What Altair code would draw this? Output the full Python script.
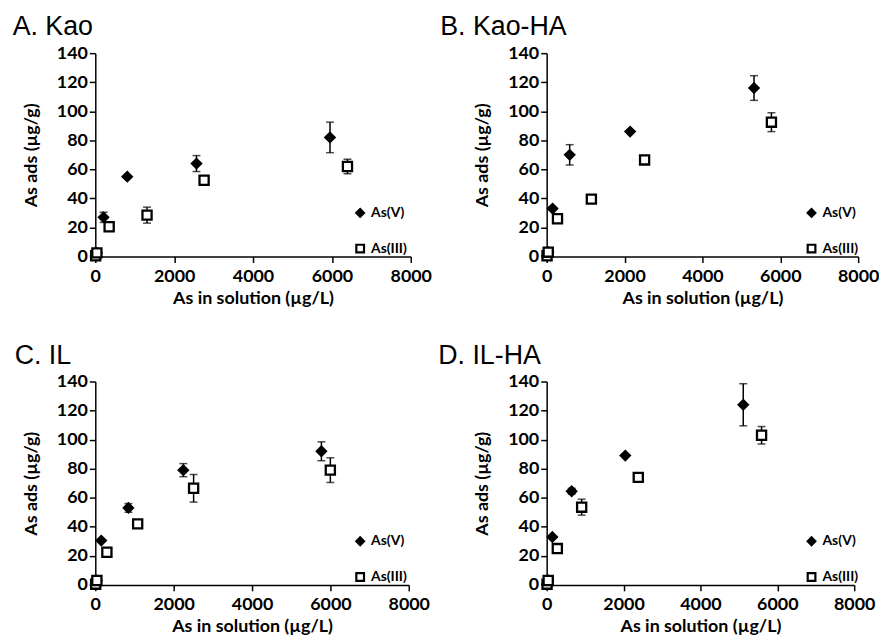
import altair as alt
import pandas as pd

panels = ["A. Kao", "B. Kao-HA", "C. IL", "D. IL-HA"]
species = ["As(V)", "As(III)"]
x_ticks = [0, 2000, 4000, 6000, 8000]
y_ticks = [0, 20, 40, 60, 80, 100, 120, 140]

# As(V): x = As in solution (µg/L), y = As ads (µg/g), err = half error bar
v_x = [
    [10, 40, 209, 811, 2566, 5952],
    [10, 40, 152, 591, 2143, 5325],
    [10, 40, 152, 845, 2247, 5770],
    [10, 40, 147, 650, 2045, 5114],
]
v_y = [
    [0.5, 2.5, 27, 55, 64, 82],
    [0.5, 3, 33, 70, 86, 116],
    [0.5, 3, 30.5, 53, 79, 92],
    [0.5, 3, 33, 64.5, 89, 124],
]
v_err = [
    [0, 0, 3.5, 0, 5.5, 10.5],
    [0, 0, 0, 7, 0, 8.5],
    [0, 0, 0, 3, 4.5, 6.5],
    [0, 0, 0, 2, 0, 14.5],
]
# As(III)
i_x = [
    [10, 40, 351, 1312, 2759, 6395],
    [10, 40, 278, 1148, 2515, 5772],
    [10, 40, 296, 1081, 2509, 5998],
    [10, 40, 277, 910, 2383, 5590],
]
i_y = [
    [0.5, 2.5, 20.5, 28.5, 52.5, 62],
    [0.5, 3, 26, 39.5, 66.5, 92.5],
    [0.5, 3, 22.5, 42, 66.5, 79],
    [0.5, 3, 25, 53.5, 74, 103],
]
i_err = [
    [0, 0, 0, 5.5, 0, 5],
    [0, 0, 0, 0, 0, 6.5],
    [0, 0, 0, 0, 9.5, 8.5],
    [0, 0, 0, 5.5, 0, 6],
]

XT = "As in solution (µg/L)"
YT = "As ads (µg/g)"
title_dx = [-10, -34, -8, -36]
panel_w = [318, 314, 316, 310]


def panel(i):
    rows = []
    for sp, xs, ys, es in [("As(V)", v_x[i], v_y[i], v_err[i]),
                           ("As(III)", i_x[i], i_y[i], i_err[i])]:
        for x, y, e in zip(xs, ys, es):
            rows.append(dict(species=sp, x=x, y=y, lo=y - e, hi=y + e, err=e))
    df = pd.DataFrame(rows)
    xs = alt.Scale(domain=[0, 8000], nice=False)
    ys = alt.Scale(domain=[0, 140], nice=False)
    xax = alt.Axis(values=x_ticks, title=XT, format="d", labelFlush=False,
                   labelPadding=5, titlePadding=4)
    yax = alt.Axis(values=y_ticks, title=YT, format="d", titlePadding=16)
    base = alt.Chart(df)
    eb = base.transform_filter("datum.err > 0")
    rules = eb.mark_rule(color="black", strokeWidth=1.5).encode(
        x=alt.X("x:Q", scale=xs, axis=xax),
        y=alt.Y("lo:Q", scale=ys, axis=yax),
        y2="hi:Q",
    )
    cap_lo = eb.mark_tick(color="black", orient="horizontal", size=8, thickness=1.5).encode(
        x=alt.X("x:Q", scale=xs, axis=xax),
        y=alt.Y("lo:Q", scale=ys, axis=yax),
    )
    cap_hi = eb.mark_tick(color="black", orient="horizontal", size=8, thickness=1.5).encode(
        x=alt.X("x:Q", scale=xs, axis=xax),
        y=alt.Y("hi:Q", scale=ys, axis=yax),
    )
    leg = alt.Legend(orient="none", legendX=260, legendY=154, title=None,
                     labelFont="Lato", labelFontSize=14, labelFontWeight="bold",
                     labelColor="black", symbolSize=60, rowPadding=18,
                     symbolStrokeWidth=2.2, symbolStrokeColor="black")
    pts = base.mark_point(filled=True, strokeWidth=2.3, opacity=1, size=85).encode(
        x=alt.X("x:Q", scale=xs, axis=xax),
        y=alt.Y("y:Q", scale=ys, axis=yax),
        shape=alt.Shape("species:N", scale=alt.Scale(domain=species, range=["diamond", "square"]), legend=leg),
        fill=alt.Fill("species:N", scale=alt.Scale(domain=species, range=["black", "white"]), legend=leg),
        stroke=alt.Stroke("species:N", scale=alt.Scale(domain=species, range=["black", "black"]), legend=leg),
    )
    return alt.layer(rules, cap_lo, cap_hi, pts).properties(
        width=panel_w[i], height=205,
        title=alt.TitleParams(panels[i], anchor="start", frame="bounds",
                              font="Liberation Sans", fontSize=27, dx=title_dx[i],
                              fontWeight="normal", color="black", offset=3),
    )


def row(a, b):
    return alt.hconcat(panel(a), panel(b), spacing=8).resolve_scale(
        shape="independent", fill="independent", stroke="independent"
    ).resolve_legend(shape="independent", fill="independent", stroke="independent")


chart = alt.vconcat(row(0, 1), row(2, 3), spacing=35).resolve_scale(
    shape="independent", fill="independent", stroke="independent"
).resolve_legend(shape="independent", fill="independent", stroke="independent").properties(
    background="white", padding={"left": 4, "top": 3, "right": 0, "bottom": 0}
).configure_axis(
    domainColor="black", domainWidth=1.5, tickColor="black", tickWidth=1.5, tickSize=6,
    labelFont="Lato", labelFontSize=18, labelFontWeight="bold", labelColor="black",
    titleFont="Lato", titleFontSize=18, titleFontWeight="bold", titleColor="black",
    grid=False,
).configure_view(stroke=None)

chart.save("out.html", embed_options={"renderer": "svg", "actions": False})
